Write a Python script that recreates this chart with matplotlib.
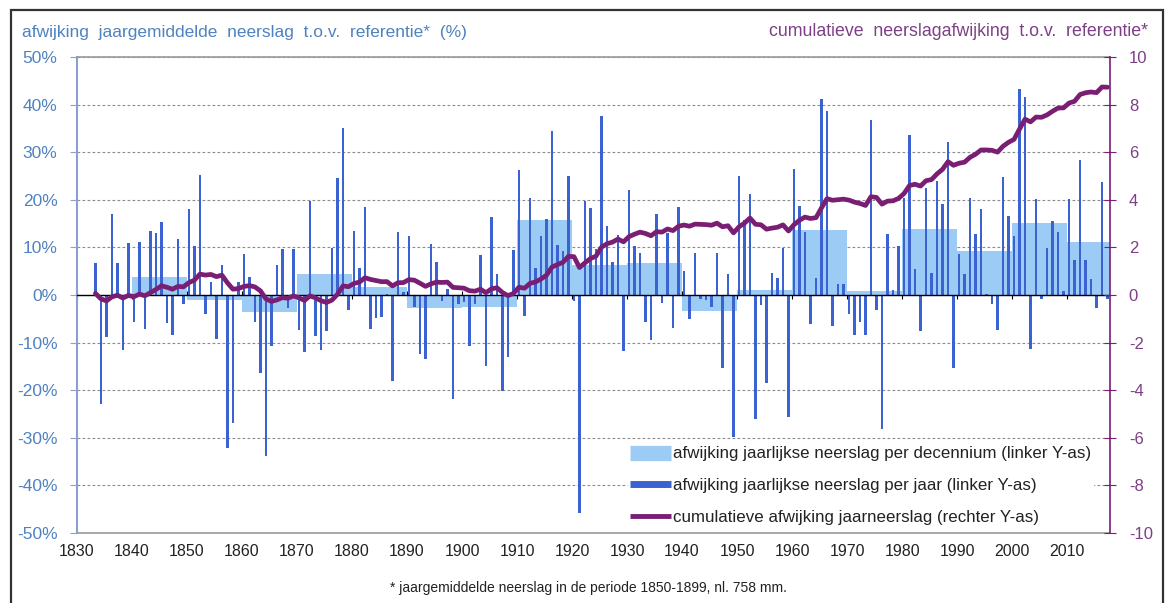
import numpy as np
import matplotlib
matplotlib.use('Agg')
import matplotlib.pyplot as plt
from matplotlib.patches import Rectangle
from matplotlib.lines import Line2D

plt.rcParams['font.family'] = ['Liberation Sans', 'DejaVu Sans']
plt.rcParams['axes.unicode_minus'] = False

# jaarlijkse afwijking (%) t.o.v. referentie 1850-1899, per jaar 1833-2017
jaren = np.arange(1833, 2018)
afwijking_jaar = [
    6.8, -22.8, -8.9, 17.0, 6.8, -11.6, 11.0,                        # 1833-1839
    -5.7, 11.2, -7.1, 13.5, 13.0, 15.3, -5.9, -8.3, 11.8, -1.8,      # 1840s
    18.0, 10.2, 25.2, -4.0, 2.7, -9.2, 6.2, -32.2, -26.8, 2.7,       # 1850s
    8.7, 3.8, -5.7, -16.4, -33.8, -10.7, 6.4, 9.7, -2.8, 9.7,        # 1860s
    -7.3, -11.9, 19.7, -8.7, -11.6, -7.6, 9.9, 24.5, 35.1, -3.1,     # 1870s
    13.5, 5.6, 18.5, -7.1, -4.8, -4.7, 0.2, -18.0, 13.3, 0.7,        # 1880s
    12.5, -2.6, -12.4, -13.4, 10.7, 7.0, -1.2, 1.2, -21.9, -1.9,     # 1890s
    -1.5, -10.7, -1.9, 8.5, -15.0, 16.4, 4.5, -20.2, -13.1, 9.4,     # 1900s
    26.3, -4.4, 20.4, 5.7, 12.5, 15.9, 34.4, 10.6, 9.3, 25.1,        # 1910s
    -1.3, -45.7, 19.7, 18.2, 9.7, 37.7, 14.6, 7.0, 12.6, -11.7,      # 1920s
    22.0, 10.2, 8.8, -5.7, -9.5, 17.0, -1.7, 13.1, -6.9, 18.5,       # 1930s
    5.0, -5.0, 8.8, -0.9, -1.1, -2.6, 8.8, -15.4, 4.5, -29.9,        # 1940s
    25.1, 15.7, 21.3, -26.1, -2.2, -18.5, 4.7, 3.5, 9.9, -25.7,      # 1950s
    26.5, 18.7, 13.3, -6.0, 3.5, 41.1, 38.7, -6.6, 2.3, 2.3,         # 1960s
    -4.0, -8.5, -5.7, -8.3, 36.8, -3.1, -28.2, 12.8, 1.1, 10.2,      # 1970s
    20.4, 33.7, 5.4, -7.6, 22.5, 4.7, 24.0, 19.2, 32.2, -15.4,       # 1980s
    8.7, 4.5, 20.4, 12.8, 18.0, 0.2, -1.8, -7.4, 24.7, 16.6,         # 1990s
    12.3, 43.2, 41.7, -11.4, 20.2, -0.9, 9.9, 15.5, 13.3, 0.9,       # 2000s
    20.2, 7.4, 28.4, 7.4, 3.3, -2.8, 23.8, -0.9,                     # 2010-2017
]

# gemiddelde afwijking per decennium (%)
decennia = np.arange(1840, 2020, 10)
afwijking_decennium = [3.8, -1.1, -3.6, 4.5, 1.7, -2.7, -2.6, 15.7, 6.2,
                       6.7, -3.3, 1.0, 13.7, 0.8, 13.9, 9.3, 15.1, 11.2]

# cumulatieve afwijking (rechter as)
cumulatief = np.cumsum(afwijking_jaar) / 100.0

decade_labels = np.arange(1830, 2020, 10)

blauw = '#3a62d0'
lichtblauw = '#9ccbf6'
paars = '#7a1e74'
asblauw = '#4f82c0'
astekst_paars = '#7d3f86'

fig = plt.figure(figsize=(11.67, 6.03), dpi=100)
ax = fig.add_axes([77/1167, 1-533/603, (1110-77)/1167, (533-57)/603])
ax2 = ax.twinx()

ax.bar(decennia, afwijking_decennium, width=10, align='edge', color=lichtblauw, zorder=1)
ax.bar(jaren + 0.35, afwijking_jaar, width=0.5, color=blauw, zorder=2)
ax2.plot(jaren + 0.35, cumulatief, color=paars, lw=3.4, solid_capstyle='round')

ax.set_xlim(1830, 2017.8)
ax.set_ylim(-50, 50)
ax2.set_ylim(-10, 10)

ax.set_yticks(range(-50, 51, 10))
ax.set_yticklabels([f'{v}%' for v in range(-50, 51, 10)])
ax.yaxis.grid(True, linestyle=(0, (2.5, 2)), color='#8c8c8c', lw=0.8)
ax.set_axisbelow(True)
ax.tick_params(axis='y', colors='#8ca0d0', labelcolor=asblauw, labelsize=12.5,
               direction='out', length=5, pad=9)

# x-as op de nullijn, jaartallen onderaan
ax.spines['bottom'].set_position(('data', 0))
ax.spines['bottom'].set_color('black')
ax.spines['bottom'].set_linewidth(1.0)
ax.set_xticks(decade_labels)
ax.tick_params(axis='x', direction='inout', length=6, color='black', labelbottom=False)
sec = ax.secondary_xaxis(0.0)
sec.set_xticks(decade_labels)
sec.set_xticklabels([str(d) for d in decade_labels])
sec.tick_params(length=0, labelsize=11.5, pad=8, labelcolor='#222222')
sec.spines['bottom'].set_color('#9a9a9a')
sec.spines['bottom'].set_linewidth(1.2)

ax.spines['top'].set_color('#9a9a9a')
ax.spines['top'].set_linewidth(1.2)
ax.spines['left'].set_color('#8ca0d0')
ax.spines['left'].set_linewidth(1.5)
ax.spines['right'].set_visible(False)

ax2.set_yticks(range(-10, 11, 2))
ax2.tick_params(axis='y', colors=paars, labelcolor=astekst_paars, labelsize=12,
                direction='inout', length=9, pad=9)
for s in ['left', 'top', 'bottom']:
    ax2.spines[s].set_visible(False)
ax2.spines['right'].set_color(paars)
ax2.spines['right'].set_linewidth(1.2)

handles = [
    Line2D([], [], color=lichtblauw, lw=11, solid_capstyle='butt'),
    Line2D([], [], color=blauw, lw=5, solid_capstyle='butt'),
    Line2D([], [], color=paars, lw=3.5, solid_capstyle='butt'),
]
labels = ['afwijking jaarlijkse neerslag per decennium (linker Y-as)',
          'afwijking jaarlijkse neerslag per jaar (linker Y-as)',
          'cumulatieve afwijking jaarneerslag (rechter Y-as)']
leg = ax2.legend(handles, labels, loc='upper left', bbox_to_anchor=(0.525, 0.205),
                 fontsize=12.2, handlelength=2.4, handletextpad=0.1,
                 labelspacing=1.0, borderpad=0.15, frameon=True, fancybox=False,
                 framealpha=1.0, facecolor='white', edgecolor='white')
for t in leg.get_texts():
    t.set_color('#222222')

fig.text(22/1167, 1-33/603, 'afwijking  jaargemiddelde  neerslag  t.o.v.  referentie*  (%)',
         color=asblauw, fontsize=12.5, va='center', ha='left')
fig.text(1148/1167, 1-31/603, 'cumulatieve  neerslagafwijking  t.o.v.  referentie*',
         color=astekst_paars, fontsize=12.8, va='center', ha='right')
fig.text(588/1167, 1-588/603, '* jaargemiddelde neerslag in de periode 1850-1899, nl. 758 mm.',
         color='#222222', fontsize=10, va='center', ha='center')

fig.patches.append(Rectangle((11/1167, -0.02), (1163-11)/1167, 1.02 - 10/603,
                             transform=fig.transFigure, fill=False,
                             edgecolor='#333333', lw=1.6))

fig.savefig('out.png', dpi=100, facecolor='white')
